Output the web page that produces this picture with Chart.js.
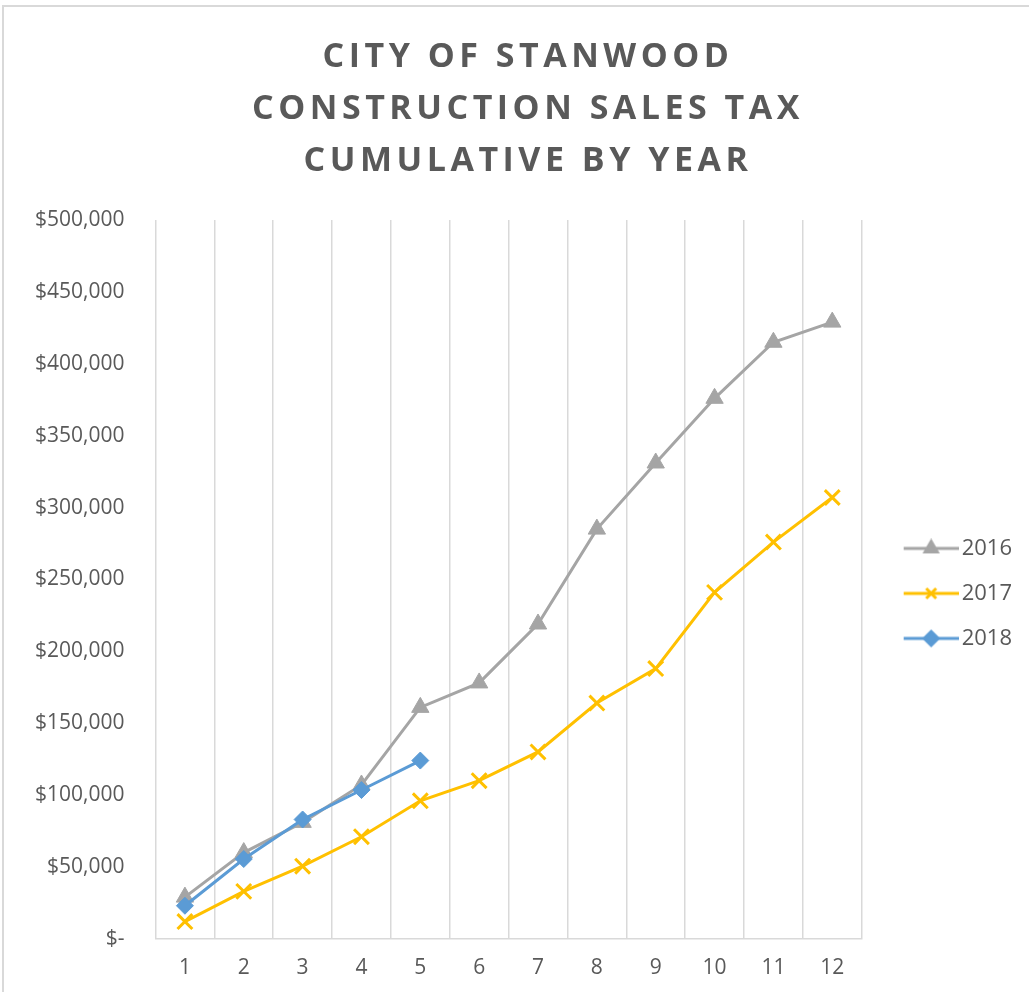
<!DOCTYPE html>
<html>
<head>
<meta charset="utf-8">
<script src="https://cdn.jsdelivr.net/npm/chart.js@4/dist/chart.umd.min.js"></script>
<style>
  html, body { margin: 0; padding: 0; background: #fff; }
  #frame {
    position: absolute; left: 2px; top: 5px; width: 1040px; height: 1000px;
    border: 2px solid #d9d9d9; box-sizing: border-box;
  }
  #wrap { position: absolute; left: 0; top: 0; width: 1029px; height: 992px; }
</style>
</head>
<body>
<div id="frame"></div>
<div id="wrap"><canvas id="chart"></canvas></div>
<script>
var MONTHS = ['1', '2', '3', '4', '5', '6', '7', '8', '9', '10', '11', '12'];
var SALES_2016 = [29000, 60000, 81000, 107000, 161000, 178000, 219000, 285000, 331000, 376000, 415000, 429000];
var SALES_2017 = [12000, 33000, 50500, 71000, 96000, 110000, 130000, 164000, 188000, 241000, 276000, 307000];
var SALES_2018 = [23000, 55500, 83000, 103500, 124000];
var Y_TICKS = [0, 50000, 100000, 150000, 200000, 250000, 300000, 350000, 400000, 450000, 500000];

var TEXT_COLOR = '#595959';
var GRID_COLOR = '#d9d9d9';
var LEGEND_BOX = 66;

// line+marker swatch for the legend; the line sits at the right end of the canvas
function swatch(color, style) {
  var w = LEGEND_BOX + 16;
  var c = document.createElement('canvas');
  c.width = w; c.height = 20;
  var g = c.getContext('2d');
  g.strokeStyle = color; g.fillStyle = color; g.lineWidth = 3;
  g.beginPath(); g.moveTo(w - 55, 10); g.lineTo(w, 10); g.stroke();
  Chart.helpers.drawPoint(g, {
    pointStyle: style, radius: 7, borderWidth: 2.5, rotation: 0
  }, w - 27.5, 10);
  return c;
}

// wider letter spacing for the title, centred on the whole chart frame
var spacedTitle = {
  id: 'spacedTitle',
  beforeDraw: function(chart) {
    var tb = chart.titleBlock;
    if (!tb || tb._spaced) return;
    var orig = tb.draw;
    tb.draw = function() {
      var ctx = chart.ctx;
      ctx.save();
      ctx.letterSpacing = '4.5px';
      ctx.translate(11, 0);
      orig.apply(this, arguments);
      ctx.restore();
    };
    tb._spaced = true;
  },
};

function makeSeries(label, data, color, style, radius, order) {
  return {
    label: label,
    data: data,
    borderColor: color,
    backgroundColor: color,
    borderWidth: 3,
    pointStyle: style,
    pointRadius: radius,
    pointHoverRadius: radius,
    pointBorderWidth: style === 'crossRot' ? 3 : 1,
    pointBorderColor: color,
    pointBackgroundColor: color,
    tension: 0,
    order: order,
  };
}

var datasets = [
  makeSeries('2016', SALES_2016, '#a5a5a5', 'triangle', 10, 3),
  makeSeries('2017', SALES_2017, '#ffc000', 'crossRot', 10.5, 2),
  makeSeries('2018', SALES_2018, '#5b9bd5', 'rectRot', 8.5, 1),
];

new Chart(document.getElementById('chart'), {
  type: 'line',
  data: { labels: MONTHS, datasets: datasets },
  options: {
    responsive: true,
    maintainAspectRatio: false,
    animation: false,
    layout: { padding: { left: 12, right: 7, top: 31, bottom: -6 } },
    scales: {
      x: {
        offset: true,
        grid: { offset: true, color: GRID_COLOR, lineWidth: 1.5, drawTicks: false },
        border: { color: GRID_COLOR, width: 1.5 },
        ticks: { color: TEXT_COLOR, font: { family: 'Open Sans', size: 21 }, padding: 17 },
      },
      y: {
        min: 0,
        max: 500000,
        afterBuildTicks: function(scale) {
          scale.ticks = Y_TICKS.map(function(v) { return { value: v }; });
        },
        grid: { display: false },
        border: { display: false },
        ticks: {
          color: TEXT_COLOR,
          font: { family: 'Open Sans', size: 21 },
          padding: 23,
          callback: function(v) {
            return v === 0 ? '$-' : '$' + v.toLocaleString('en-US');
          },
        },
      },
    },
    plugins: {
      title: {
        display: true,
        text: ['CITY OF STANWOOD', 'CONSTRUCTION SALES TAX', 'CUMULATIVE BY YEAR'],
        color: TEXT_COLOR,
        font: { family: 'Open Sans', size: 34, weight: 'bold', lineHeight: 1.53 },
        padding: { top: 0, bottom: 33 },
      },
      legend: {
        position: 'right',
        fullSize: false,
        title: { display: true, text: ' ', font: { size: 10 }, padding: { top: 8, bottom: 8 } },
        labels: {
          color: TEXT_COLOR,
          font: { family: 'Open Sans', size: 22 },
          usePointStyle: true,
          pointStyleWidth: LEGEND_BOX,
          padding: 23,
          generateLabels: function(chart) {
            return chart.data.datasets.map(function(ds, i) {
              return {
                text: ds.label,
                fontColor: TEXT_COLOR,
                pointStyle: swatch(ds.borderColor, ds.pointStyle),
                datasetIndex: i,
                hidden: false,
                lineWidth: 0,
                strokeStyle: 'transparent',
                fillStyle: 'transparent',
              };
            });
          },
        },
      },
      tooltip: { enabled: false },
    },
  },
  plugins: [spacedTitle],
});
</script>
</body>
</html>
